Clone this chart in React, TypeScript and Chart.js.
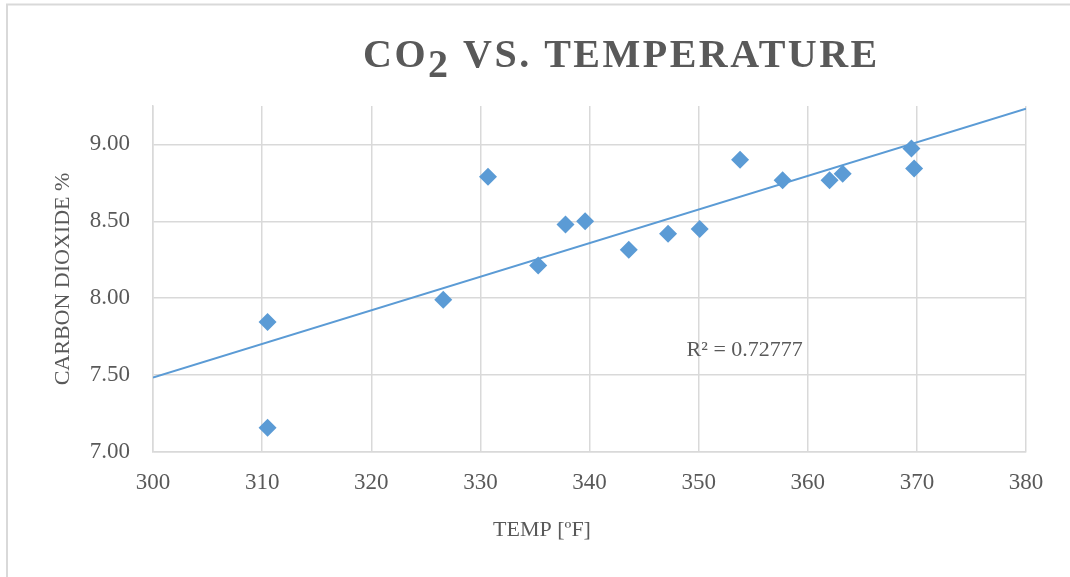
import React, { useEffect, useRef } from 'react';
import { Chart, registerables } from 'chart.js';

Chart.register(...registerables);

// ---- data ----
const tempF = [310.5, 310.5, 326.6, 330.7, 335.3, 337.8, 339.6, 343.6, 347.2, 350.1, 353.8, 357.7, 362.0, 363.2, 369.5, 369.75];
const co2Pct = [7.845, 7.158, 7.99, 8.79, 8.213, 8.48, 8.5, 8.315, 8.42, 8.45, 8.9, 8.767, 8.767, 8.81, 8.974, 8.843];
const xRange = [300, 380];
const yRange = [7, 9.25];
const xStep = 10;
const yStep = 0.5;
const titleMain = 'CO';
const titleSub = '2';
const titleRest = ' VS. TEMPERATURE';
const xTitle = 'TEMP [ºF]';
const yTitle = 'CARBON DIOXIDE %';
const r2Label = 'R² = 0.72777';
const r2Anchor = { x: 348.9, y: 7.625 };

const FONT = '"Liberation Serif", "Times New Roman", serif';
const TEXT = '#595959';
const GRID = '#d9d9d9';
const BLUE = '#5b9bd5';

function linearFit(xs: number[], ys: number[]) {
  const n = xs.length;
  const mx = xs.reduce((a, b) => a + b, 0) / n;
  const my = ys.reduce((a, b) => a + b, 0) / n;
  let sxy = 0;
  let sxx = 0;
  for (let i = 0; i < n; i++) {
    sxy += (xs[i] - mx) * (ys[i] - my);
    sxx += (xs[i] - mx) * (xs[i] - mx);
  }
  const slope = sxy / sxx;
  return { slope, intercept: my - slope * mx };
}

const decorPlugin = {
  id: 'decor',
  beforeDraw(chart: any) {
    const ctx = chart.ctx;
    ctx.save();
    ctx.strokeStyle = GRID;
    ctx.lineWidth = 2;
    ctx.beginPath();
    ctx.moveTo(7, 2000);
    ctx.lineTo(7, 4.5);
    ctx.lineTo(2000, 4.5);
    ctx.stroke();
    ctx.restore();
  },
  afterDraw(chart: any) {
    const ctx = chart.ctx;
    const xs = chart.scales.x;
    const ys = chart.scales.y;
    ctx.save();
    // Title
    ctx.fillStyle = TEXT;
    ctx.textBaseline = 'alphabetic';
    ctx.textAlign = 'left';
    ctx.font = `bold 40px ${FONT}`;
    (ctx as any).letterSpacing = '2.5px';
    let x = 363;
    const base = 67;
    ctx.fillText(titleMain, x, base);
    x += ctx.measureText(titleMain).width;
    ctx.fillText(titleSub, x, base + 10);
    x += ctx.measureText(titleSub).width;
    ctx.fillText(titleRest, x, base);
    (ctx as any).letterSpacing = '0px';
    // X axis title
    ctx.font = `22px ${FONT}`;
    ctx.textAlign = 'center';
    ctx.textBaseline = 'middle';
    ctx.fillText(xTitle, 542, 530);
    // R squared label
    ctx.textAlign = 'left';
    ctx.textBaseline = 'alphabetic';
    ctx.fillText(r2Label, xs.getPixelForValue(r2Anchor.x), ys.getPixelForValue(r2Anchor.y));
    ctx.restore();
  },
};

export default function App() {
  const ref = useRef<HTMLCanvasElement | null>(null);
  useEffect(() => {
    document.body.style.margin = '0';
    const fit = linearFit(tempF, co2Pct);
    const trend = xRange.map((x) => ({ x, y: fit.intercept + fit.slope * x }));
    const chart = new Chart(ref.current as HTMLCanvasElement, {
      type: 'scatter',
      data: {
        datasets: [
          {
            label: 'Trend',
            data: trend,
            showLine: true,
            borderColor: BLUE,
            borderWidth: 2,
            pointRadius: 0,
            order: 2,
          },
          {
            label: 'CO2',
            data: tempF.map((x, i) => ({ x, y: co2Pct[i] })),
            pointStyle: 'rectRot',
            pointRadius: 9,
            pointHoverRadius: 9,
            backgroundColor: BLUE,
            borderColor: BLUE,
            borderWidth: 0,
            order: 1,
          },
        ],
      },
      options: {
        animation: false,
        responsive: false,
        layout: { padding: { left: 50, right: 44, top: 106, bottom: 0 } },
        plugins: { legend: { display: false }, tooltip: { enabled: false }, title: { display: false } },
        scales: {
          x: {
            type: 'linear',
            min: xRange[0],
            max: xRange[1],
            ticks: { stepSize: xStep, color: TEXT, font: { family: FONT, size: 23 }, padding: 17 },
            grid: { color: GRID, lineWidth: 1.5, drawTicks: false },
            border: { color: GRID, width: 1.5 },
            afterFit: (s: any) => {
              s.height = 125;
            },
          },
          y: {
            type: 'linear',
            min: yRange[0],
            max: yRange[1],
            ticks: {
              stepSize: yStep,
              color: TEXT,
              font: { family: FONT, size: 23 },
              padding: 23,
              callback: (v: any) => Number(v).toFixed(2),
            },
            afterBuildTicks: (s: any) => {
              s.ticks = s.ticks.filter((t: any) => t.value <= 9.0001);
            },
            grid: { color: GRID, lineWidth: 1.5, drawTicks: false },
            border: { color: GRID, width: 1.5 },
            title: { display: true, text: yTitle, color: TEXT, font: { family: FONT, size: 22 }, padding: 0 },
            afterFit: (s: any) => {
              s.width = 103;
            },
          },
        },
      },
      plugins: [decorPlugin],
    });
    return () => chart.destroy();
  }, []);
  return (
    <div style={{ position: 'fixed', left: 0, top: 0, width: 1070, height: 577, background: '#fff' }}>
      <canvas ref={ref} width={1070} height={577} style={{ display: 'block' }} />
    </div>
  );
}
